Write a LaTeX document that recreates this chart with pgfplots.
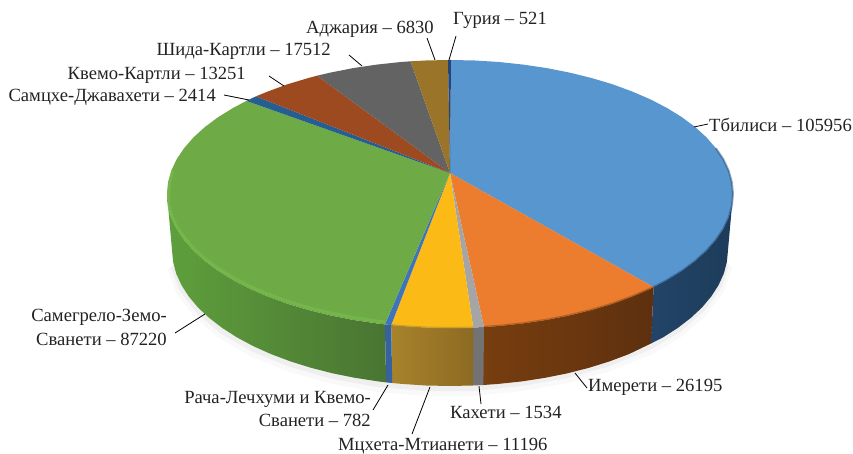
\documentclass[border=0pt]{standalone}
\usepackage{pgfplots}
\pgfplotsset{compat=1.18}
\usepackage{fontspec}
\setmainfont{Liberation Serif}
\definecolor{cBlue}{HTML}{5796CF}
\definecolor{cOrange}{HTML}{EC7C2E}
\definecolor{cGray}{HTML}{A5A5A5}
\definecolor{cYellow}{HTML}{FBBA16}
\definecolor{cThin}{HTML}{3F73BC}
\definecolor{cGreen}{HTML}{6EAB46}
\definecolor{cTeal}{HTML}{255E91}
\definecolor{cBrown}{HTML}{9E4A20}
\definecolor{cDGray}{HTML}{636363}
\definecolor{cGold}{HTML}{9A7428}
\definecolor{cNavy}{HTML}{264478}
\definecolor{sNavyA}{HTML}{1D3C5A}
\definecolor{sNavyB}{HTML}{234468}
\definecolor{sOrA}{HTML}{773E0F}
\definecolor{sOrB}{HTML}{5E300F}
\definecolor{sGoldA}{HTML}{A8832C}
\definecolor{sGoldB}{HTML}{8C6A22}
\definecolor{sGreenA}{HTML}{5F9F3C}
\definecolor{sGreenB}{HTML}{497532}
\definecolor{sBevel}{HTML}{7CC04E}
\definecolor{lbl}{HTML}{222222}
\begin{document}
\begin{tikzpicture}
\useasboundingbox (0,0) rectangle (853pt,454pt);
\begin{axis}[
  at={(0,0)}, anchor=south west,
  scale only axis, width=853pt, height=454pt,
  xmin=0, xmax=853, ymin=0, ymax=454, y dir=reverse,
  axis lines=none, no markers, clip=false,
  every axis plot/.append style={line join=round}
]
% soft shadow below the side
\addplot[draw=black, opacity=0.025, line width=12pt] coordinates {(726.9,265)(718.5,289)(702,311)(677.7,332)(651,348)(609.5,365)(567.5,377)(521.9,385)(472.8,390)(425.8,390)(378.1,386)(332.5,378)(290.5,366)(253.4,351)(222.3,333)(198,312)(181.5,290)(173.1,267)};
\addplot[draw=black, opacity=0.04, line width=6pt] coordinates {(726.9,263)(718.5,287)(702,309)(677.7,330)(651,346)(609.5,363)(567.5,375)(521.9,383)(472.8,388)(425.8,388)(378.1,384)(332.5,376)(290.5,364)(253.4,349)(222.3,331)(198,310)(181.5,288)(173.1,265)};
% side faces
\addplot[draw=none, left color=sNavyB, right color=sNavyA] coordinates {(733,194)(731.9,205.7)(728.7,217.3)(723.4,228.7)(715.9,239.8)(706.5,250.6)(695.1,261)(681.8,270.9)(666.8,280.1)(653.6,287.1)(651,343.5)(663,337.4)(677.7,328)(690.7,318)(702,307.5)(711.2,296.5)(718.5,285.2)(723.8,273.6)(726.9,261.9)(728,250)} -- cycle;
\addplot[draw=none, left color=sOrA, right color=sOrB] coordinates {(653.6,287.1)(650.1,288.8)(631.9,296.6)(612.3,303.8)(591.5,310)(569.6,315.4)(546.8,319.9)(523.2,323.4)(499.1,326)(484,327)(483.4,385)(498.3,383.9)(521.9,381.4)(545.1,377.8)(567.5,373.3)(589,367.8)(609.5,361.4)(628.7,354.2)(651,343.5)} -- cycle;
\addplot[draw=none, fill=cGray!70!black] coordinates {(484,327)(473.2,327.5)(472.8,385.5)(483.4,385)} -- cycle;
\addplot[draw=none, left color=sGoldA, right color=sGoldB] coordinates {(473.2,327.5)(450,328)(425.3,327.5)(400.9,326)(391.2,325.1)(392.2,383)(401.7,383.9)(425.8,385.5)(450,386)(472.8,385.5)} -- cycle;
\addplot[draw=none, fill=cThin!85!black] coordinates {(391.2,325.1)(384.9,324.4)(386.1,382.4)(392.2,383)} -- cycle;
\addplot[draw=none, left color=sGreenA, right color=sGreenB] coordinates {(384.9,324.4)(376.8,323.4)(353.2,319.9)(330.4,315.4)(308.5,310)(287.7,303.8)(268.1,296.6)(249.9,288.8)(233.2,280.1)(218.2,270.9)(204.9,261)(193.5,250.6)(184.1,239.8)(176.6,228.7)(171.3,217.3)(168.1,205.7)(167,194)(172,250)(173.1,261.9)(176.2,273.6)(181.5,285.2)(188.8,296.5)(198,307.5)(209.3,318)(222.3,328)(237,337.4)(253.4,346.2)(271.3,354.2)(290.5,361.4)(311,367.8)(332.5,373.3)(354.9,377.8)(378.1,381.4)(386.1,382.4)} -- cycle;
% top faces
\addplot[draw=none, fill=cBlue] coordinates {(450,173)(451,60)(474.7,60.5)(499.1,62)(523.2,64.6)(546.8,68.1)(569.6,72.6)(591.5,78)(612.3,84.2)(631.9,91.4)(650.1,99.2)(666.8,107.9)(681.8,117.1)(695.1,127)(706.5,137.4)(715.9,148.2)(723.4,159.3)(728.7,170.7)(731.9,182.3)(733,194)(731.9,205.7)(728.7,217.3)(723.4,228.7)(715.9,239.8)(706.5,250.6)(695.1,261)(681.8,270.9)(666.8,280.1)(653.6,287.1)} -- cycle;
\addplot[draw=none, fill=cOrange] coordinates {(450,173)(653.6,287.1)(650.1,288.8)(631.9,296.6)(612.3,303.8)(591.5,310)(569.6,315.4)(546.8,319.9)(523.2,323.4)(499.1,326)(484,327)} -- cycle;
\addplot[draw=none, fill=cGray] coordinates {(450,173)(484,327)(473.2,327.5)} -- cycle;
\addplot[draw=none, fill=cYellow] coordinates {(450,173)(473.2,327.5)(450,328)(425.3,327.5)(400.9,326)(391.2,325.1)} -- cycle;
\addplot[draw=none, fill=cThin] coordinates {(450,173)(391.2,325.1)(384.9,324.4)} -- cycle;
\addplot[draw=none, fill=cGreen] coordinates {(450,173)(384.9,324.4)(376.8,323.4)(353.2,319.9)(330.4,315.4)(308.5,310)(287.7,303.8)(268.1,296.6)(249.9,288.8)(233.2,280.1)(218.2,270.9)(204.9,261)(193.5,250.6)(184.1,239.8)(176.6,228.7)(171.3,217.3)(168.1,205.7)(167,194)(168.1,182.3)(171.3,170.7)(176.6,159.3)(184.1,148.2)(193.5,137.4)(204.9,127)(218.2,117.1)(233.2,107.9)(246.4,100.9)} -- cycle;
\addplot[draw=none, fill=cTeal] coordinates {(450,173)(246.4,100.9)(249.9,99.2)(256,96.3)} -- cycle;
\addplot[draw=none, fill=cBrown] coordinates {(450,173)(256,96.3)(268.1,91.4)(287.7,84.2)(308.5,78)(317.1,75.7)} -- cycle;
\addplot[draw=none, fill=cDGray] coordinates {(450,173)(317.1,75.7)(330.4,72.6)(353.2,68.1)(376.8,64.6)(400.9,62)(410.6,61.3)} -- cycle;
\addplot[draw=none, fill=cGold] coordinates {(450,173)(410.6,61.3)(425.3,60.5)(448,60)} -- cycle;
\addplot[draw=none, fill=cNavy] coordinates {(450,173)(448,60)(451,60)} -- cycle;
% rim bevel
\addplot[draw=sBevel, line width=3pt, opacity=0.55] coordinates {(384.9,322)(376.8,321)(353.2,317.5)(330.4,313)(308.5,307.6)(287.7,301.4)(268.1,294.2)(249.9,286.4)(233.2,277.7)(218.2,268.5)(204.9,258.6)(193.5,248.2)(184.1,237.4)(176.6,226.3)(171.3,214.9)(169,205.7)(168.5,194)(169.6,182.3)(172.8,170.7)};
\addplot[draw=sOrA, line width=2.4pt, opacity=0.45] coordinates {(653.6,287.1)(650.1,288.8)(631.9,296.6)(612.3,303.8)(591.5,310)(569.6,315.4)(546.8,319.9)(523.2,323.4)(499.1,326)(484,327)};
\addplot[draw=sNavyB, line width=2pt, opacity=0.45] coordinates {(653.6,287.1)(666.8,280.1)(681.8,270.9)(695.1,261)(706.5,250.6)(715.9,239.8)(723.4,228.7)(728.7,217.3)(731.9,205.7)(733,194)(731.9,182.3)(728.7,170.7)(723.4,159.3)(715.9,148.2)};
\addplot[draw=sGoldA, line width=2pt, opacity=0.5] coordinates {(473.2,327.5)(450,328)(425.3,327.5)(400.9,326)(391.2,325.1)};
% leader lines
\addplot[draw=black, line width=0.8pt] coordinates {(449,60)(456,36)};
\addplot[draw=black, line width=0.8pt] coordinates {(435,60)(427,38)};
\addplot[draw=black, line width=0.8pt] coordinates {(362,66)(349,55)};
\addplot[draw=black, line width=0.8pt] coordinates {(284,86)(269,76)};
\addplot[draw=black, line width=0.8pt] coordinates {(249,100)(224,95)};
\addplot[draw=black, line width=0.8pt] coordinates {(694,127)(708,124)};
\addplot[draw=black, line width=0.8pt] coordinates {(575,373)(587,388)};
\addplot[draw=black, line width=0.8pt] coordinates {(479,386)(481,404)};
\addplot[draw=black, line width=0.8pt] coordinates {(430,387)(412,434)};
\addplot[draw=black, line width=0.8pt] coordinates {(388,385)(373,410)};
\addplot[draw=black, line width=0.8pt] coordinates {(205,314)(175,333)};
% labels
\tikzset{lab/.style={font=\fontsize{18.6}{21}\selectfont, text=lbl, inner sep=0pt}}
\node[lab, anchor=west] at (axis cs:453,20) {Гурия – 521};
\node[lab, anchor=east] at (axis cs:434,29) {Аджария – 6830};
\node[lab, anchor=east] at (axis cs:331,51) {Шида-Картли – 17512};
\node[lab, anchor=east] at (axis cs:246,75) {Квемо-Картли – 13251};
\node[lab, anchor=east] at (axis cs:216,97) {Самцхе-Джавахети – 2414};
\node[lab, anchor=west] at (axis cs:709,125) {Тбилиси – 105956};
\node[lab, anchor=west] at (axis cs:588,387) {Имерети – 26195};
\node[lab, anchor=west] at (axis cs:450,412) {Кахети – 1534};
\node[lab, anchor=west] at (axis cs:338,446) {Мцхета-Мтианети – 11196};
\node[lab, anchor=east] at (axis cs:371,399) {Рача-Лечхуми и Квемо-};
\node[lab, anchor=east] at (axis cs:371,420) {Сванети – 782};
\node[lab, anchor=east] at (axis cs:167,317) {Самегрело-Земо-};
\node[lab, anchor=east] at (axis cs:167,339) {Сванети – 87220};
\end{axis}
\end{tikzpicture}
\end{document}
